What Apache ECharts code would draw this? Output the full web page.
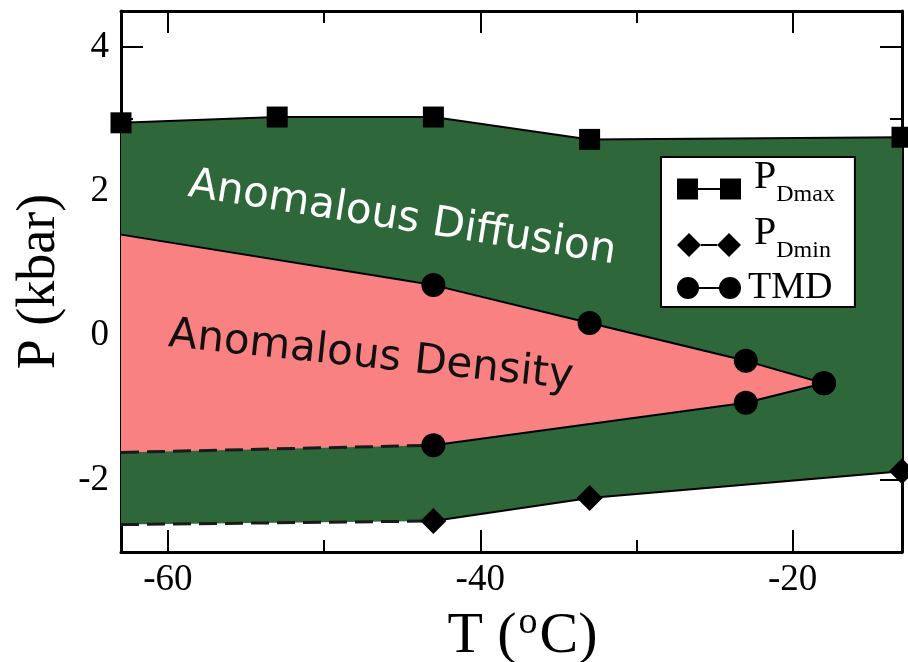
<!DOCTYPE html>
<html>
<head>
<meta charset="utf-8" />
<title>Anomalous density and diffusion</title>
<script src="https://cdn.jsdelivr.net/npm/echarts@6/dist/echarts.min.js"></script>
<style>html,body{margin:0;padding:0;background:#fff}</style>
</head>
<body>
<div id="chart" style="width:908px;height:662px"></div>
<script>
// P_Dmax (squares)
var dmaxT = [-63, -53, -43, -33, -13];
var dmaxP = [2.95, 3.03, 3.03, 2.72, 2.75];
// P_Dmin (diamonds) + dashed extension to the left edge
var dminT = [-43, -33, -13];
var dminP = [-2.57, -2.25, -1.88];
var dminExtT = [-63, -43];
var dminExtP = [-2.62, -2.57];
// TMD (circles), upper and lower branch
var tmdUpT = [-43, -33, -23, -18];
var tmdUpP = [0.70, 0.175, -0.35, -0.66];
var tmdLoT = [-43, -23, -18];
var tmdLoP = [-1.52, -0.93, -0.66];
var tmdUpExtT = [-63, -43];
var tmdUpExtP = [1.40, 0.70];
var tmdLoExtT = [-63, -43];
var tmdLoExtP = [-1.62, -1.52];

// ticks
var xMajor = [-60, -40, -20];
var xMinor = [-50, -30];
var yMajor = [-2, 0, 2, 4];
var yMinor = [-1, 1, 3];

var GREEN = '#2e6739';
var PINK = '#f98181';
var SERIF = 'Liberation Serif';

function pts(t, p) {
  return t.map(function (v, i) { return [v, p[i]]; });
}

// region outlines
var greenPoly = pts(dmaxT, dmaxP).concat(pts(dminT, dminP).reverse(), [[dminExtT[0], dminExtP[0]]]);
var pinkPoly = pts(tmdUpExtT, tmdUpExtP).concat(pts(tmdUpT, tmdUpP).slice(1),
  pts(tmdLoT, tmdLoP).reverse().slice(1), [[tmdLoExtT[0], tmdLoExtP[0]]]);

function region(points, color) {
  return {
    type: 'custom', silent: true, z: 1,
    data: [[points[0][0], points[0][1]]],
    renderItem: function (params, api) {
      return {
        type: 'polygon',
        shape: { points: points.map(function (p) { return api.coord(p); }) },
        style: { fill: color }
      };
    }
  };
}

function solid(name, data, symbol, size) {
  return {
    name: name, type: 'line', data: data, symbol: symbol, symbolSize: size,
    showSymbol: true, clip: false, z: 5,
    lineStyle: { color: '#000', width: 2 }, itemStyle: { color: '#000' }
  };
}

function dashed(name, data) {
  return {
    name: name, type: 'line', data: data, symbol: 'none', clip: false, z: 4,
    lineStyle: { color: '#1a1a1a', width: 3, type: [18, 8] }
  };
}

function xAx(pos, ticks, len, main) {
  return {
    type: 'value', min: -63, max: -13, position: pos,
    axisLine: { show: main, onZero: false, lineStyle: { color: '#000', width: 3 } },
    axisTick: { inside: true, length: len, customValues: ticks, lineStyle: { color: '#000', width: 2 } },
    axisLabel: { show: main && pos === 'bottom', customValues: ticks, fontSize: 37, fontFamily: SERIF, color: '#000', margin: 10 },
    splitLine: { show: false }
  };
}
function yAx(pos, ticks, len, main) {
  return {
    type: 'value', min: -3, max: 4.5, position: pos,
    axisLine: { show: main, onZero: false, lineStyle: { color: '#000', width: 3 } },
    axisTick: { inside: true, length: len, customValues: ticks, lineStyle: { color: '#000', width: 2 } },
    axisLabel: { show: main && pos === 'left', customValues: ticks, fontSize: 37, fontFamily: SERIF, color: '#000', margin: 12 },
    splitLine: { show: false }
  };
}

var xAxes = [xAx('bottom', xMajor, 22, true), xAx('bottom', xMinor, 12, false),
  xAx('top', xMajor, 22, true), xAx('top', xMinor, 12, false)];
xAxes[0].name = '{a0|T (}{o|o}{a|C)}';
xAxes[0].nameLocation = 'middle';
xAxes[0].nameGap = 36;
xAxes[0].nameTextStyle = {
  rich: {
    a0: { fontSize: 58, fontFamily: SERIF, color: '#000', verticalAlign: 'bottom', padding: [0, 0, 0, 22] },
    a: { fontSize: 58, fontFamily: SERIF, color: '#000', verticalAlign: 'bottom' },
    o: { fontSize: 38, fontFamily: SERIF, color: '#000', verticalAlign: 'bottom', padding: [0, 2, 24, 2] }
  }
};
var yAxes = [yAx('left', yMajor, 22, true), yAx('left', yMinor, 12, false),
  yAx('right', yMajor, 22, true), yAx('right', yMinor, 12, false)];
yAxes[0].name = 'P (kbar)';
yAxes[0].nameLocation = 'middle';
yAxes[0].nameGap = 52;
yAxes[0].nameTextStyle = { fontSize: 54, fontFamily: SERIF, color: '#000' };

var option = {
  animation: false,
  backgroundColor: '#fff',
  grid: { left: 121, right: 6, top: 11, bottom: 110, outerBoundsMode: 'none', containLabel: false },
  xAxis: xAxes,
  yAxis: yAxes,
  legend: {
    left: 661, top: 157, orient: 'vertical',
    backgroundColor: '#fff', borderColor: '#000', borderWidth: 2,
    padding: [0, 20, 0, 16], itemGap: 6, itemWidth: 64, itemHeight: 24,
    data: [
      { name: 'PDmax', icon: 'path://M0,0h21v21h-21zM43,0h21v21h-21zM21,9.5h22v2h-22z' },
      { name: 'PDmin', icon: 'path://M0,12L12,0L24,12L12,24zM40,12L52,0L64,12L52,24zM24,11h16v2h-16z' },
      { name: 'TMD', icon: 'path://M0,11a11,11 0 1,0 22,0a11,11 0 1,0 -22,0zM42,11a11,11 0 1,0 22,0a11,11 0 1,0 -22,0zM22,10h20v2h-20z' }
    ],
    itemStyle: { color: '#000' },
    formatter: function (name) {
      if (name === 'TMD') return '{t|TMD}';
      return '{p|P}{s|' + name.slice(1) + '}';
    },
    textStyle: {
      rich: {
        p: { fontSize: 40, lineHeight: 36, fontFamily: SERIF, color: '#000', verticalAlign: 'bottom', padding: [0, 0, 10, 8] },
        s: { fontSize: 24, lineHeight: 24, fontFamily: SERIF, color: '#000', verticalAlign: 'bottom' },
        t: { fontSize: 38, lineHeight: 40, fontFamily: SERIF, color: '#000', padding: [0, 0, 0, 2] }
      }
    }
  },
  series: [
    region(greenPoly, GREEN),
    region(pinkPoly, PINK),
    dashed('dmin-ext', pts(dminExtT, dminExtP)),
    dashed('tmd-lo-ext', pts(tmdLoExtT, tmdLoExtP)),
    Object.assign(solid('tmd-up-ext', pts(tmdUpExtT, tmdUpExtP), 'none', 0), { z: 4 }),
    solid('PDmax', pts(dmaxT, dmaxP), 'rect', 21),
    solid('PDmin', pts(dminT, dminP), 'diamond', [26, 26]),
    solid('TMD', pts(tmdUpT, tmdUpP), 'circle', 24),
    solid('TMD', pts(tmdLoT, tmdLoP), 'circle', 24)
  ]
};

var chart = echarts.init(document.getElementById('chart'), null, { renderer: 'canvas' });
chart.setOption(option);

// region names, anchored in data space
var diffusionAt = [-45, 1.62];
var densityAt = [-47, -0.29];
function tag(txt, at, color, deg) {
  var p = chart.convertToPixel({ gridIndex: 0 }, at);
  return {
    type: 'text', x: p[0], y: p[1], rotation: -deg * Math.PI / 180, z: 10,
    style: { text: txt, fill: color, font: '42px "DejaVu Sans"', align: 'center', verticalAlign: 'middle' }
  };
}
chart.setOption({
  graphic: [tag('Anomalous Diffusion', diffusionAt, '#fff', 9), tag('Anomalous Density', densityAt, '#111', 6)]
});
</script>
</body>
</html>
